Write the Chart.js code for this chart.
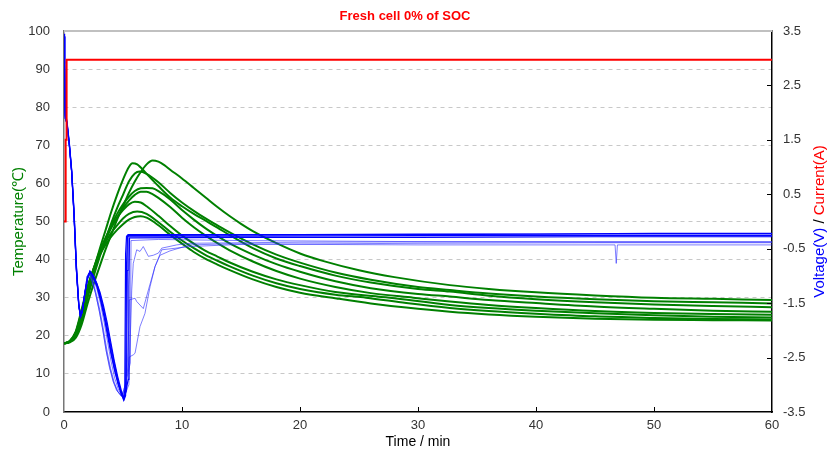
<!DOCTYPE html>
<html>
<head>
<meta charset="utf-8">
<script src="https://cdn.jsdelivr.net/npm/chart.js@4.4.0/dist/chart.umd.min.js"></script>
<style>
  html, body { margin: 0; padding: 0; background: #fff; }
  canvas { display: block; }
</style>
</head>
<body>
<canvas id="fresh-cell" width="828" height="451"></canvas>
<script>
// time (min), temperature (℃)
var temp1 = [[0,18],[0.5,18.3],[1,19.5],[1.5,23],[2,28.5],[2.5,33.5],[3,38],[3.5,42.5],[4,46.5],[4.5,50.5],[5,54],[5.5,57.5],[6,60.5],[6.5,63],[7,65],[7.5,66],[8,65.7],[8.5,64.8],[9,63.6],[10,61.3],[11,58.8],[12,56.3],[13,53.8],[14,51.5],[15,49.4],[16,47.5],[18,44.3],[20,41.6],[22,39.6],[25,37.2],[28,35.4],[32.7,33.3],[36,32.3],[40,31.4],[45,30.6],[50,30],[55,29.7],[60,29.4]];
var temp2 = [[0,18],[0.5,18.5],[1,20.2],[1.5,24.5],[2,31],[2.5,37],[3,42.5],[3.5,47.5],[4,52.5],[4.5,57],[5,61],[5.5,64.3],[5.8,65.3],[6.2,65],[7,62.5],[8,59.3],[9,56.3],[10,54],[11,52],[12,50.2],[13,48.4],[14,46.5],[16,43],[18,40.3],[20,38.3],[23,35.8],[26,34],[30,32.3],[32.7,31.6],[36,30.5],[40,29.6],[45,28.8],[50,28.2],[55,27.8],[60,27.5]];
var temp3 = [[0,18],[0.5,18.4],[1,20],[1.5,24],[2,30],[2.5,35.5],[3,40.5],[3.5,45],[4,49.5],[4.5,53.5],[5,57],[5.5,60.5],[6,62.6],[6.4,63.1],[7,62.5],[8,60.3],[9,57.5],[10,55],[11,52.8],[12,50.8],[13,49],[14,47.2],[16,44],[18,41.3],[20,39.2],[23,36.6],[26,34.7],[30,32.8],[32.7,32],[36,31.1],[40,30.3],[45,29.6],[50,29.1],[55,28.8],[60,28.5]];
var temp4 = [[0,18],[0.5,18.5],[1,20.3],[1.5,25],[2,31],[2.5,36.5],[3,41.5],[3.5,45.5],[4,49],[4.5,52],[5,54.5],[5.5,56.5],[6,58],[6.5,58.7],[7,58.8],[7.5,58.7],[8,58],[9,55.8],[10,53],[11,50.5],[12,48.2],[13,46.2],[14,44.3],[16,41.3],[18,38.8],[20,36.8],[23,34.3],[26,32.5],[30,31],[32.7,30.3],[36,29.4],[40,28.6],[45,27.7],[50,27.1],[55,26.6],[60,26.3]];
var temp5 = [[0,18],[0.5,18.5],[1,20.5],[1.5,25.5],[2,31.5],[2.5,37],[3,41.5],[3.5,45],[4,48.3],[4.5,51],[5,53.5],[5.5,55.5],[6,57],[6.5,57.8],[7,57.8],[7.5,57.2],[8,56.2],[9,53.8],[10,51],[11,48.5],[12,46.3],[13,44.3],[14,42.5],[16,39.5],[18,37],[20,35],[23,32.8],[26,31.2],[29.6,30],[32.7,29],[36,28.1],[40,27.3],[45,26.5],[50,26],[55,25.7],[60,25.5]];
var temp6 = [[0,18],[0.5,18.6],[1,20.8],[1.5,26],[2,32],[2.5,37.5],[3,42],[3.5,45.5],[4,48.5],[4.5,51],[5,53],[5.5,54.5],[6,55.2],[6.5,55],[7,54],[8,51.5],[9,48.8],[10,46.3],[11,44.2],[12,42.3],[13,40.8],[14,39.3],[16,36.8],[18,34.8],[20,33.3],[23,31.5],[27.6,30],[32.7,28.1],[36,27.3],[40,26.6],[45,25.9],[50,25.4],[55,25],[60,24.8]];
var temp7 = [[0,18],[0.5,18.6],[1,21],[1.5,26.5],[2,32.5],[2.5,37.5],[3,41.5],[3.5,44.5],[4,47],[4.5,49],[5,50.8],[5.5,52],[6.2,52.6],[7,52],[8,49.8],[9,47.3],[10,45],[11,43],[12,41.2],[13,39.7],[14,38.3],[16,35.8],[18,33.8],[20,32.3],[23,30.8],[25.6,30],[29,28.6],[32.7,27.3],[36,26.5],[40,25.8],[45,25.1],[50,24.7],[55,24.4],[60,24.3]];
var temp8 = [[0,18],[0.5,18.7],[1,21.2],[1.5,27],[2,33],[2.5,37.5],[3,41],[3.5,43.8],[4,46],[4.5,47.8],[5,49.3],[5.5,50.5],[6,51.2],[6.5,51.4],[7,51],[8,49],[9,46.5],[10,44.2],[11,42],[12,40.2],[13,38.7],[14,37.3],[16,34.8],[18,32.8],[20,31.3],[23.1,29.8],[26,28.5],[29,27.4],[32.7,26.3],[36,25.6],[40,25],[45,24.5],[50,24.2],[55,24.1],[60,24]];

// time (min), voltage (V)
var volt1 = [[0,3.45],[0.05,3.0],[0.1,2.0],[0.25,1.85],[0.45,1.45],[0.65,0.95],[0.85,0.2],[1.05,-0.8],[1.25,-1.5],[1.4,-1.74],[1.55,-1.65],[1.75,-1.35],[2.0,-1.05],[2.2,-0.92],[2.45,-0.98],[2.75,-1.12],[3.05,-1.3],[3.35,-1.55],[3.65,-1.85],[3.95,-2.2],[4.25,-2.55],[4.55,-2.85],[4.85,-3.1],[5.1,-3.27],[5.22,-3.2],[5.3,-0.8],[5.38,-0.26],[10,-0.25],[20,-0.24],[30,-0.23],[40,-0.23],[50,-0.22],[60,-0.22]];
var volt2 = [[0,3.4],[0.05,2.95],[0.1,1.95],[0.25,1.82],[0.45,1.4],[0.65,0.9],[0.85,0.1],[1.05,-0.9],[1.25,-1.55],[1.4,-1.75],[1.55,-1.66],[1.75,-1.35],[2.0,-1.04],[2.2,-0.93],[2.5,-1.05],[2.8,-1.2],[3.1,-1.45],[3.4,-1.75],[3.7,-2.1],[4.0,-2.45],[4.3,-2.75],[4.6,-3.0],[4.9,-3.2],[5.05,-3.25],[5.15,-3.1],[5.22,-0.6],[5.3,-0.27],[15,-0.27],[30,-0.26],[45,-0.26],[60,-0.26]];
var volt3 = [[0,3.4],[0.05,2.9],[0.1,1.9],[0.25,1.8],[0.45,1.42],[0.65,0.92],[0.85,0.15],[1.05,-0.85],[1.25,-1.52],[1.4,-1.73],[1.55,-1.64],[1.75,-1.33],[2.0,-1.03],[2.2,-0.91],[2.5,-1.0],[2.8,-1.15],[3.1,-1.38],[3.4,-1.65],[3.7,-1.98],[4.0,-2.32],[4.3,-2.65],[4.6,-2.95],[4.9,-3.18],[5.05,-3.28],[5.2,-3.15],[5.45,-2.9],[5.5,-1.2],[5.55,-0.3],[15,-0.29],[30,-0.29],[45,-0.28],[60,-0.28]];
var volt4 = [[0,3.4],[0.05,2.9],[0.1,1.9],[0.25,1.8],[0.45,1.4],[0.65,0.9],[0.85,0.1],[1.05,-0.9],[1.25,-1.55],[1.4,-1.76],[1.55,-1.66],[1.75,-1.34],[1.95,-1.02],[2.1,-0.95],[2.4,-1.1],[2.7,-1.35],[3.0,-1.65],[3.3,-2.0],[3.6,-2.4],[3.9,-2.7],[4.2,-2.95],[4.5,-3.1],[4.8,-3.2],[5.0,-3.15],[5.3,-2.9],[5.62,-2.6],[5.68,-0.35],[8,-0.33],[15,-0.35],[30,-0.37],[45,-0.38],[60,-0.38]];
var volt5 = [[0,3.4],[0.05,2.9],[0.1,1.9],[0.25,1.8],[0.45,1.4],[0.65,0.9],[0.85,0.1],[1.05,-0.9],[1.25,-1.55],[1.4,-1.76],[1.55,-1.66],[1.75,-1.34],[1.95,-1.02],[2.1,-0.96],[2.35,-1.08],[2.65,-1.3],[2.95,-1.6],[3.25,-1.95],[3.55,-2.35],[3.85,-2.68],[4.15,-2.93],[4.45,-3.1],[4.75,-3.18],[4.9,-3.2],[5.2,-3.0],[5.48,-2.6],[5.53,-2.49],[5.87,-2.45],[6.02,-2.42],[6.44,-1.93],[6.86,-1.69],[7.29,-1.2],[7.71,-0.83],[8.14,-0.62],[8.98,-0.54],[10.68,-0.43],[14,-0.41],[20,-0.42],[30,-0.43],[40,-0.43],[46.7,-0.43],[46.8,-0.77],[46.9,-0.43],[60,-0.43]];
var volt6 = [[0,3.4],[0.05,2.9],[0.1,1.9],[0.25,1.8],[0.45,1.4],[0.65,0.9],[0.85,0.1],[1.05,-0.9],[1.25,-1.55],[1.4,-1.75],[1.55,-1.65],[1.75,-1.33],[1.95,-1.01],[2.15,-0.94],[2.45,-1.1],[2.75,-1.34],[3.05,-1.64],[3.35,-1.99],[3.65,-2.38],[3.95,-2.7],[4.25,-2.95],[4.55,-3.12],[4.95,-3.22],[5.3,-3.0],[5.48,-2.0],[5.53,-1.44],[6.02,-1.41],[6.16,-1.47],[6.72,-1.6],[7.15,-1.26],[7.71,-0.83],[8.28,-0.52],[10.68,-0.46],[15,-0.42],[30,-0.4],[45,-0.39],[60,-0.39]];
var volt7 = [[0,3.4],[0.05,2.9],[0.1,1.9],[0.25,1.8],[0.45,1.4],[0.65,0.9],[0.85,0.1],[1.05,-0.9],[1.25,-1.55],[1.4,-1.75],[1.55,-1.65],[1.75,-1.33],[2.0,-1.02],[2.2,-0.93],[2.5,-1.06],[2.8,-1.25],[3.1,-1.52],[3.4,-1.85],[3.7,-2.22],[4.0,-2.58],[4.3,-2.88],[4.6,-3.08],[5.0,-3.25],[5.5,-3.0],[5.74,-1.26],[5.87,-0.77],[6.16,-0.52],[6.44,-0.55],[6.72,-0.46],[7.15,-0.64],[7.57,-0.62],[8.0,-0.58],[8.28,-0.49],[9.55,-0.43],[10.68,-0.4],[20,-0.38],[40,-0.37],[60,-0.37]];
var volt8 = [[0,3.4],[0.05,2.95],[0.1,1.95],[0.25,1.82],[0.45,1.43],[0.65,0.93],[0.85,0.15],[1.05,-0.85],[1.25,-1.52],[1.4,-1.74],[1.55,-1.65],[1.75,-1.34],[2.0,-1.04],[2.2,-0.92],[2.5,-1.02],[2.8,-1.18],[3.1,-1.42],[3.4,-1.7],[3.7,-2.05],[4.0,-2.4],[4.3,-2.72],[4.6,-2.98],[4.9,-3.17],[5.1,-3.24],[5.3,-3.1],[5.36,-0.9],[5.42,-0.24],[15,-0.24],[30,-0.24],[45,-0.23],[60,-0.23]];

// time (min), current (A)
var current = [[0,0],[0.14,0],[0.14,1.5],[0.22,1.5],[0.22,2.97],[60,2.97]];

var timeTicks = [0, 10, 20, 30, 40, 50, 60];
var rightTicks = [-3.5, -2.5, -1.5, -0.5, 0.5, 1.5, 2.5, 3.5];

var tempSeries = [temp1, temp2, temp3, temp4, temp5, temp6, temp7, temp8];
var voltSeries = [volt1, volt2, volt3, volt4, volt5, volt6, volt7, volt8];
var darkVolt = [true, true, true, false, false, false, false, true];

var FONT = "'Liberation Sans', Arial, sans-serif";
Chart.defaults.font.family = FONT;

function pts(arr) {
    return arr.map(function (p) { return {x: p[0], y: p[1]}; });
}

var datasets = [];
datasets.push({
    label: 'Current',
    data: pts(current),
    yAxisID: 'y2',
    borderColor: 'rgb(255, 0, 0)',
    borderWidth: 2,
    pointRadius: 0
});
voltSeries.forEach(function (s, i) {
    datasets.push({
        label: 'Voltage ' + (i + 1),
        data: pts(s),
        yAxisID: 'y2',
        borderColor: darkVolt[i] ? 'rgba(0, 0, 255, 1)' : 'rgba(40, 40, 255, 0.6)',
        borderWidth: darkVolt[i] ? 1.2 : 1,
        pointRadius: 0
    });
});
tempSeries.forEach(function (s, i) {
    datasets.push({
        label: 'Temperature ' + (i + 1),
        data: pts(s),
        yAxisID: 'y',
        borderColor: 'rgb(0, 128, 0)',
        borderWidth: 2,
        pointRadius: 0,
        cubicInterpolationMode: 'monotone'
    });
});

var decorations = {
    id: 'decorations',
    beforeDatasetsDraw: function (chart) {
        var ctx = chart.ctx, a = chart.chartArea;
        ctx.save();
        ctx.strokeStyle = '#c0c0c0';
        ctx.lineWidth = 2;
        ctx.beginPath();
        ctx.moveTo(a.left, a.top);
        ctx.lineTo(a.right, a.top);
        ctx.stroke();
        ctx.restore();
    },
    afterDraw: function (chart) {
        var ctx = chart.ctx, a = chart.chartArea;
        var xs = chart.scales.x, ys = chart.scales.y2;
        ctx.save();
        ctx.strokeStyle = '#000';
        ctx.lineWidth = 1;
        timeTicks.forEach(function (t) {
            if (t === 0 || t === 60) return;
            var px = Math.round(xs.getPixelForValue(t)) + 0.5;
            ctx.beginPath();
            ctx.moveTo(px, a.bottom);
            ctx.lineTo(px, a.bottom - 5);
            ctx.stroke();
        });
        rightTicks.forEach(function (v) {
            if (v === -3.5 || v === 3.5) return;
            var py = Math.round(ys.getPixelForValue(v)) + 0.5;
            ctx.beginPath();
            ctx.moveTo(a.right, py);
            ctx.lineTo(a.right - 5, py);
            ctx.stroke();
        });
        // right axis title in three colours
        var parts = [['Voltage(V)', 'rgb(0, 0, 255)'], [' / ', '#000'], ['Current(A)', 'rgb(255, 0, 0)']];
        ctx.font = '15px ' + FONT;
        var total = 0;
        parts.forEach(function (p) { total += ctx.measureText(p[0]).width; });
        ctx.translate(820, (a.top + a.bottom) / 2);
        ctx.rotate(-Math.PI / 2);
        ctx.textBaseline = 'middle';
        ctx.textAlign = 'left';
        var x = -total / 2;
        parts.forEach(function (p) {
            ctx.fillStyle = p[1];
            ctx.fillText(p[0], x, 0);
            x += ctx.measureText(p[0]).width;
        });
        ctx.restore();
    }
};

var ctx = document.getElementById('fresh-cell');

var cellChart = new Chart(ctx, {
    type: 'line',
    data: { datasets: datasets },
    options: {
        responsive: false,
        animation: false,
        devicePixelRatio: 1,
        layout: { padding: { left: 0, right: 18, top: 0, bottom: 0 } },
        plugins: {
            legend: { display: false },
            tooltip: { enabled: false },
            title: {
                display: true,
                text: 'Fresh cell 0% of SOC',
                color: 'rgb(255, 0, 0)',
                font: { size: 13, weight: 'bold' },
                padding: { top: 9, bottom: 6.4 }
            }
        },
        scales: {
            x: {
                type: 'linear',
                min: 0,
                max: 60,
                afterBuildTicks: function (s) { s.ticks = timeTicks.map(function (v) { return {value: v}; }); },
                ticks: { color: '#333', font: { size: 13 }, padding: 6, maxRotation: 0 },
                grid: { display: false, drawTicks: false },
                border: { color: '#000', width: 1.5 },
                title: { display: true, text: 'Time / min', color: '#000', font: { size: 14 }, padding: { top: 0, bottom: 0 } },
                afterFit: function (s) { s.height = 39; }
            },
            y: {
                position: 'left',
                min: 0,
                max: 100,
                ticks: { stepSize: 10, color: '#333', font: { size: 13 }, padding: 14 },
                grid: {
                    drawTicks: false,
                    color: function (c) {
                        return (c.tick && (c.tick.value === 0 || c.tick.value === 100)) ? 'rgba(0,0,0,0)' : '#c8c8c8';
                    }
                },
                border: { color: '#777', width: 1.5, dash: [4, 4] },
                title: { display: true, text: 'Temperature(℃)', color: 'rgb(0, 128, 0)', font: { size: 15 }, padding: { top: 10, bottom: 0 } },
                afterFit: function (s) { s.width = 64; }
            },
            y2: {
                position: 'right',
                min: -3.5,
                max: 3.5,
                afterBuildTicks: function (s) { s.ticks = rightTicks.map(function (v) { return {value: v}; }); },
                ticks: {
                    color: '#333',
                    font: { size: 13 },
                    padding: 11,
                    callback: function (v) { return v.toFixed(1); }
                },
                grid: { drawOnChartArea: false, drawTicks: false },
                border: { color: '#000', width: 1.5 },
                afterFit: function (s) { s.width = 38; }
            }
        }
    },
    plugins: [decorations]
});
</script>
</body>
</html>
